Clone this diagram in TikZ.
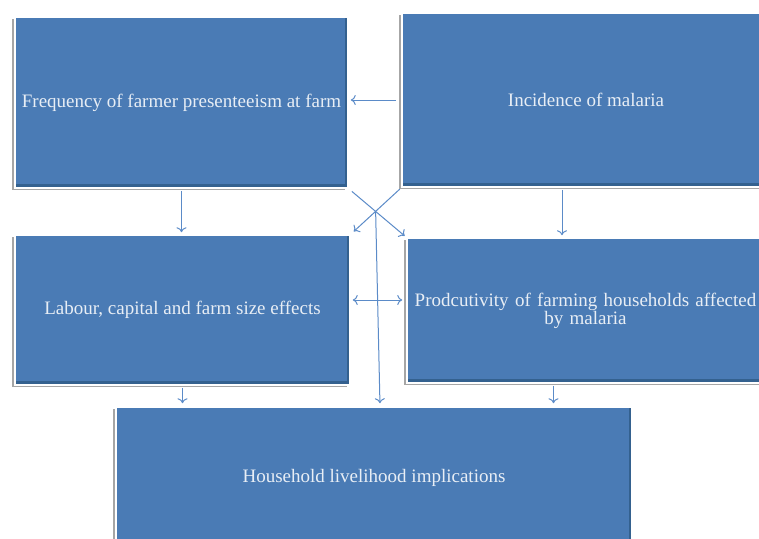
\documentclass[tikz,border=0pt]{standalone}
\usepackage{fontspec}
\setmainfont{Liberation Serif}
\usepackage{tikz}
\usetikzlibrary{arrows.meta,calc,shadows}
\definecolor{boxblue}{HTML}{4A7BB5}
\definecolor{boxedge}{HTML}{34618F}
\definecolor{linkblue}{HTML}{5B8BC8}
\definecolor{boxtext}{HTML}{E8EEF5}

\begin{document}
\begin{tikzpicture}[x=1pt,y=-1pt,
  factor/.style={draw=white,line width=1.6pt,fill=boxblue,text=boxtext,
    align=center,inner sep=0pt,font=\fontsize{19}{17}\selectfont,
    general shadow={shadow xshift=-3.5pt,shadow yshift=-2pt,fill=gray!70},
    path picture={\fill[boxedge]
      ([yshift=4pt]path picture bounding box.south west) rectangle (path picture bounding box.south east);
      \fill[boxedge] ([xshift=-3pt]path picture bounding box.south east) rectangle (path picture bounding box.north east);}},
  link/.style={linkblue,line width=1pt,-{To[length=5pt,width=10pt]}},
  both link/.style={link,{To[length=5pt,width=10pt]}-{To[length=5pt,width=10pt]}}]
  \useasboundingbox (0,0) rectangle (759,538);
  \clip (0,0) rectangle (759,538);
  \fill[white] (0,0) rectangle (759,538);
  \node[factor,minimum width=333pt,minimum height=171pt] (freq) at (181.5,102.5)
    {Frequency of farmer presenteeism at farm};
  \node[factor,minimum width=368pt,minimum height=174pt] (incid) at (586,100)
    {Incidence of malaria};
  \node[factor,minimum width=335pt,minimum height=150pt] (labour) at (182.5,310)
    {Labour, capital and farm size effects};
  \node[factor,minimum width=357pt,minimum height=145pt,text width=345pt] (prod) at (585.5,310.5)
    {Prodcutivity of farming households affected\\by malaria};
  \node[factor,minimum width=516pt,minimum height=142pt] (house) at (374,478)
    {Household livelihood implications};
  \coordinate (cross) at (intersection of freq.south east--prod.north west and incid.south west--labour.north east);
  \draw[link,shorten <=5pt,shorten >=2pt] (incid.west) -- (incid.west -| freq.east);
  \draw[link,shorten <=2pt,shorten >=2pt] (freq.south) -- (freq.south |- labour.north);
  \draw[link,shorten <=2pt,shorten >=2pt] ([xshift=-24pt]incid.south) -- ([xshift=-24pt]incid.south |- prod.north);
  \draw[link,shorten <=4pt,shorten >=2pt] (freq.south east) -- (prod.north west);
  \draw[link,shorten <=2pt,shorten >=4pt] (incid.south west) -- (labour.north east);
  \draw[link,shorten >=3pt] (cross) -- ([xshift=6pt]house.north);
  \draw[both link,shorten <=2pt,shorten >=4pt] ([yshift=10pt]labour.east) -- ([yshift=10pt]labour.east -| prod.west);
  \draw[link,shorten <=2pt,shorten >=3pt] (labour.south) -- (labour.south |- house.north);
  \draw[link,shorten <=2pt,shorten >=3pt] ([xshift=-32pt]prod.south) -- ([xshift=-32pt]prod.south |- house.north);
\end{tikzpicture}
\end{document}
